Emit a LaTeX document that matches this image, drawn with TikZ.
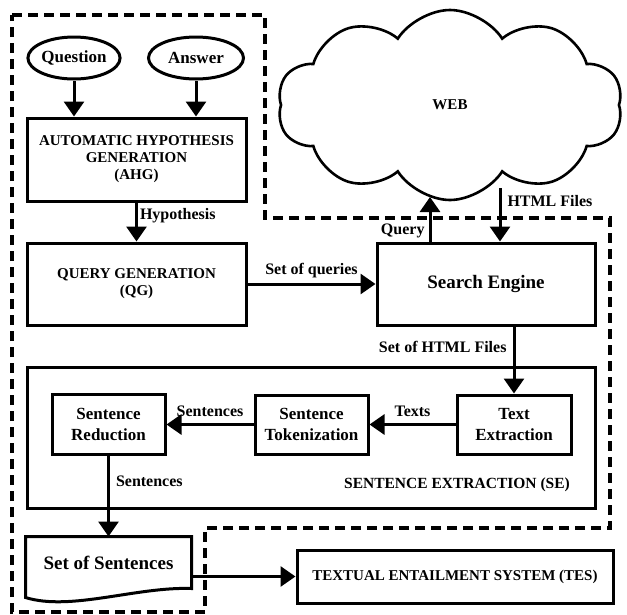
\documentclass[tikz,border=0pt]{standalone}
\usepackage{fontspec}
\setmainfont{Liberation Serif}
\usetikzlibrary{positioning,arrows.meta,shapes.geometric,shapes.symbols,calc}

\begin{document}
\begin{tikzpicture}[x=1pt, y=-1pt,
  line width=3pt, >={Triangle[length=15pt,width=20pt]},
  font=\bfseries\fontsize{15}{17}\selectfont,
  blk/.style={draw, align=center, inner sep=2pt},
  oval/.style={draw, ellipse, minimum width=90pt, minimum height=42pt, inner sep=0pt,
    font=\bfseries\fontsize{17}{20}\selectfont},
  lbl/.style={font=\bfseries\fontsize{16}{18}\selectfont, inner sep=2pt},
  mix/.style={font=\bfseries\fontsize{17}{21}\selectfont},
  big/.style={font=\bfseries\fontsize{19}{22}\selectfont},
  outline/.style={dash pattern=on 10pt off 6pt, line width=3.4pt}]
\useasboundingbox (0,0) rectangle (627,614);
% dashed region
\draw[outline] (12,15) -- (265,15) -- (265,218) -- (610,218) -- (610,528)
  -- (205,528) -- (205,612) -- (12,612) -- cycle;
% inputs
\node[oval] (q) at (74,58) {Question};
\node[oval, minimum width=95pt] (a) at (196,58) {Answer};
\node[blk, minimum width=219pt, minimum height=83pt] (ahg) at (136.5,159.5) {AUTOMATIC HYPOTHESIS\\GENERATION\\(AHG)};
\draw[->] (q.south) -- (q.south |- ahg.north);
\draw[->] (a.south) -- (a.south |- ahg.north);
% query generation
\node[blk, minimum width=219pt, minimum height=82pt] (qg) at (136.5,284) {QUERY GENERATION\\(QG)};
\draw[->] (ahg.south) -- (qg.north) node[lbl, pos=0.35, right] {Hypothesis};
% web and search engine
\node[cloud, cloud puffs=10, cloud puff arc=115, aspect=1.8, draw, fill=white, line width=2.6pt,
  minimum width=345pt, minimum height=190pt, font=\bfseries\fontsize{15}{17}\selectfont] (web) at (450,105) {WEB};
\node[blk, big, minimum width=218pt, minimum height=82pt] (se) at (486,284) {Search Engine};
\draw[->] (qg.east) -- (se.west) node[lbl, midway, above=3pt] {Set of queries};
\coordinate (qtop) at (430,197);
\coordinate (hbot) at (500,188);
\draw[->] (se.north -| qtop) -- (qtop) node[lbl, pos=0, anchor=south east, xshift=-2pt] {Query};
\draw[->] (hbot) -- (se.north -| hbot) node[lbl, pos=0.25, right=4pt] {HTML Files};
% sentence extraction
\node[draw, minimum width=568pt, minimum height=141pt] (sebox) at (311,437.5) {};
\node[font=\bfseries\fontsize{15.5}{17}\selectfont] (selbl) at (457,485) {SENTENCE EXTRACTION (SE)};
\node[blk, mix, minimum width=114pt, minimum height=59pt] (tex) at (514,424.5) {Text\\Extraction};
\node[blk, mix, minimum width=113pt, minimum height=59pt] (tok) at (311.5,424.5) {Sentence\\Tokenization};
\node[blk, mix, minimum width=113pt, minimum height=60pt] (red) at (108.5,424.5) {Sentence\\Reduction};
\draw[->] (se.south -| tex.north) -- (tex.north) node[lbl, pos=0.3, left=4pt] {Set of HTML Files};
\draw[->] (tex.west) -- (tok.east) node[lbl, midway, above=4pt] {Texts};
\draw[->] (tok.west) -- (red.east) node[lbl, midway, above=4pt] {Sentences};
% output
\node[big, minimum width=163pt, minimum height=49pt] (sos) at (108.5,562.5) {Set of Sentences};
\draw (sos.north west) -- (sos.north east) -- (sos.south east)
  .. controls +(-55,-2) and +(45,14) .. ($(sos.south west)+(0,9)$) -- cycle;
\draw[->] (red.south) -- (sos.north) node[lbl, pos=0.31, right=4pt] {Sentences};
\node[blk, minimum width=316pt, minimum height=53pt] (tes) at (455,576.5) {TEXTUAL ENTAILMENT SYSTEM (TES)};
\draw[->] (tes.west -| sos.east) -- (tes.west);
\end{tikzpicture}
\end{document}
